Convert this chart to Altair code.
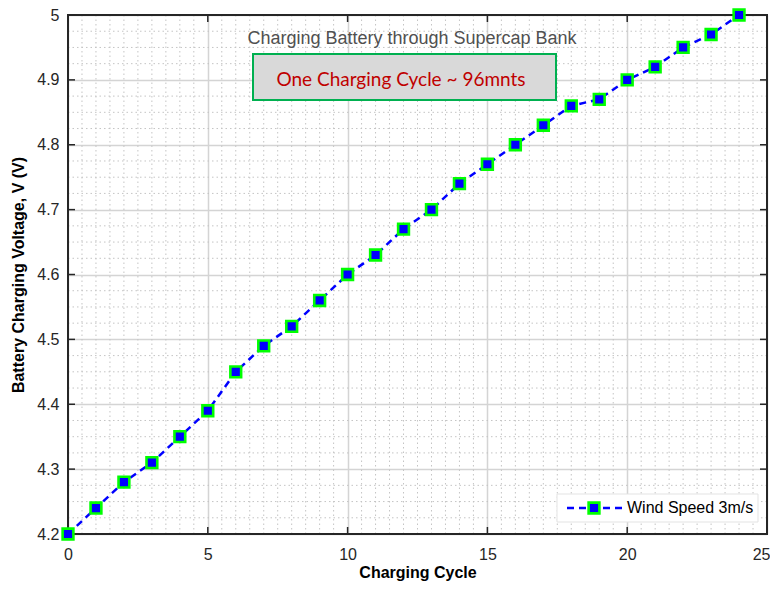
import altair as alt
import pandas as pd

# ---- data ----
cycles = list(range(25))
voltage = [4.20, 4.24, 4.28, 4.31, 4.35, 4.39, 4.45, 4.49, 4.52, 4.56,
           4.60, 4.63, 4.67, 4.70, 4.74, 4.77, 4.80, 4.83, 4.86, 4.87,
           4.90, 4.92, 4.95, 4.97, 5.00]
series_name = "Wind Speed 3m/s"
x_ticks = [0, 5, 10, 15, 20, 25]
y_ticks = [4.2, 4.3, 4.4, 4.5, 4.6, 4.7, 4.8, 4.9, 5.0]
title_text = "Charging Battery through Supercap Bank"
note_text = "One Charging Cycle ~ 96mnts"
x_title = "Charging Cycle"
y_title = "Battery Charging Voltage, V (V)"

W, H = 699, 519
FONT = "Liberation Sans"
DARK = "#262626"

df = pd.DataFrame({"cycle": cycles, "voltage": voltage})
x_minor = [i * 0.5 for i in range(1, 50) if i % 10 != 0]
y_minor = [round(4.2 + i * 0.025, 3) for i in range(1, 32) if i % 4 != 0]

xs = alt.Scale(domain=[0, 25], nice=False, zero=False)
ys = alt.Scale(domain=[4.2, 5.0], nice=False, zero=False)
one = pd.DataFrame({"k": [0]})

x_axis = alt.Axis(
    values=x_ticks, format="d", grid=True, gridColor="#d4d4d4", gridWidth=1.5,
    ticks=False, tickSize=0, domain=False,
    labelFont=FONT, labelFontSize=16, labelColor=DARK, labelPadding=12,
    labelAlign={"condition": {"test": "datum.value == 25", "value": "right"}, "value": "center"},
    labelOffset={"condition": {"test": "datum.value == 25", "value": 3}, "value": 0},
    title=x_title, titleFont=FONT, titleFontSize=16, titleFontWeight="bold",
    titleColor="#000000", titleX=W / 2, titleY=43, titleAlign="center",
    titleBaseline="alphabetic",
)
y_axis = alt.Axis(
    values=y_ticks, format=".1~f", grid=True, gridColor="#d4d4d4", gridWidth=1.5,
    ticks=False, tickSize=0, domain=False,
    labelFont=FONT, labelFontSize=16, labelColor=DARK, labelPadding=9,
    title=y_title, titleFont=FONT, titleFontSize=16, titleFontWeight="bold",
    titleColor="#000000", titleX=-50, titleY=H / 2, titleAngle=270,
    titleAlign="center", titleBaseline="middle",
)

minor_v = alt.Chart(pd.DataFrame({"gx": x_minor})).mark_rule(
    color="#c4c4c4", strokeWidth=1, strokeDash=[1.5, 3]
).encode(x=alt.X("gx:Q", scale=xs, axis=x_axis))

minor_h = alt.Chart(pd.DataFrame({"gy": y_minor})).mark_rule(
    color="#c4c4c4", strokeWidth=1, strokeDash=[1.5, 3]
).encode(y=alt.Y("gy:Q", scale=ys, axis=y_axis))

frame = alt.Chart(one).mark_rect(filled=False, stroke=DARK, strokeWidth=2).encode(
    x=alt.value(0), x2=alt.value(W), y=alt.value(0), y2=alt.value(H)
)

xt = pd.DataFrame({"tx": x_ticks})
yt = pd.DataFrame({"ty": y_ticks})
tick_b = alt.Chart(xt).mark_rule(color=DARK, strokeWidth=1.5).encode(
    x=alt.X("tx:Q", scale=xs, axis=x_axis), y=alt.value(H), y2=alt.value(H - 7))
tick_t = alt.Chart(xt).mark_rule(color=DARK, strokeWidth=1.5).encode(
    x=alt.X("tx:Q", scale=xs, axis=x_axis), y=alt.value(0), y2=alt.value(7))
tick_l = alt.Chart(yt).mark_rule(color=DARK, strokeWidth=1.5).encode(
    y=alt.Y("ty:Q", scale=ys, axis=y_axis), x=alt.value(0), x2=alt.value(7))
tick_r = alt.Chart(yt).mark_rule(color=DARK, strokeWidth=1.5).encode(
    y=alt.Y("ty:Q", scale=ys, axis=y_axis), x=alt.value(W), x2=alt.value(W - 7))

line = alt.Chart(df).mark_line(
    color="#0000ff", strokeWidth=2.5, strokeDash=[7, 5]
).encode(
    x=alt.X("cycle:Q", scale=xs, axis=x_axis),
    y=alt.Y("voltage:Q", scale=ys, axis=y_axis),
)

points = alt.Chart(df).mark_square(
    color="#0000ff", stroke="#00ff00", strokeWidth=2.6, size=116, opacity=1
).encode(
    x=alt.X("cycle:Q", scale=xs, axis=x_axis),
    y=alt.Y("voltage:Q", scale=ys, axis=y_axis),
)

title = alt.Chart(pd.DataFrame({"t": [title_text]})).mark_text(
    font=FONT, fontSize=18, color="#505050", align="center", baseline="alphabetic"
).encode(x=alt.value(344), y=alt.value(29), text="t:N")

note_box = alt.Chart(one).mark_rect(
    fill="#d9d9d9", stroke="#00b050", strokeWidth=2
).encode(x=alt.value(185), x2=alt.value(488), y=alt.value(39), y2=alt.value(85))

note = alt.Chart(pd.DataFrame({"t": [note_text]})).mark_text(
    font="Lato", fontSize=19, color="#c00000", align="center", baseline="alphabetic"
).encode(x=alt.value(333), y=alt.value(71), text="t:N")

leg_box = alt.Chart(one).mark_rect(
    fill="#ffffff", stroke="#e3e3e3", strokeWidth=1
).encode(x=alt.value(489), x2=alt.value(690), y=alt.value(479), y2=alt.value(507))

leg_line = alt.Chart(one).mark_rule(
    color="#0000ff", strokeWidth=2.5, strokeDash=[7, 5]
).encode(x=alt.value(499), x2=alt.value(555), y=alt.value(493))

leg_pt = alt.Chart(one).mark_square(
    color="#0000ff", stroke="#00ff00", strokeWidth=2.6, size=116, opacity=1
).encode(x=alt.value(526), y=alt.value(493))

leg_text = alt.Chart(pd.DataFrame({"t": [series_name]})).mark_text(
    font=FONT, fontSize=16, color="#000000", align="left", baseline="middle"
).encode(x=alt.value(559), y=alt.value(493), text="t:N")

chart = alt.layer(
    minor_v, minor_h, frame, tick_b, tick_t, tick_l, tick_r,
    line, points, title, note_box, note,
    leg_box, leg_line, leg_pt, leg_text,
).properties(
    width=W, height=H,
    autosize=alt.AutoSizeParams(type="none"),
    padding={"left": 60, "top": 7, "right": 3, "bottom": 48},
).configure_view(strokeWidth=0)

chart.save("out.html", embed_options={"renderer": "svg", "actions": False})
